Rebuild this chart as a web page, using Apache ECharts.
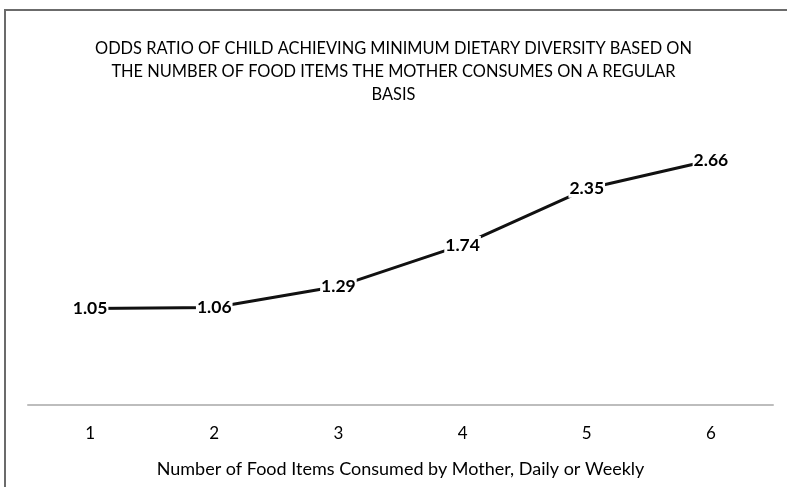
<!DOCTYPE html>
<html>
<head>
<meta charset="utf-8">
<script src="https://cdn.jsdelivr.net/npm/echarts@6/dist/echarts.min.js"></script>
<style>
    html, body { margin: 0; padding: 0; background: #fff; }
    #chart { width: 787px; height: 487px; }
</style>
</head>
<body>
<div id="chart"></div>
<script>
var categories = ['1', '2', '3', '4', '5', '6'];
var oddsRatio = [1.05, 1.06, 1.29, 1.74, 2.35, 2.66];
var titleText = 'ODDS RATIO OF CHILD ACHIEVING MINIMUM DIETARY DIVERSITY BASED ON\nTHE NUMBER OF FOOD ITEMS THE MOTHER CONSUMES ON A REGULAR\nBASIS';
var xName = 'Number of Food Items Consumed by Mother, Daily or Weekly';

var chart = echarts.init(document.getElementById('chart'));
var option = {
    animation: false,
    // outer frame, only top and left edges fall inside the picture
    graphic: [{
        type: 'rect',
        shape: { x: 5, y: 10, width: 800, height: 500 },
        style: { fill: 'none', stroke: '#6b6b6b', lineWidth: 2 }
    }],
    title: {
        text: titleText,
        left: 'center',
        top: 32,
        textStyle: {
            fontFamily: 'Lato',
            fontSize: 16.4,
            fontWeight: 'normal',
            color: '#000',
            lineHeight: 23
        }
    },
    grid: {
        left: 28,
        right: 14,
        top: 129,
        bottom: 82
    },
    xAxis: {
        type: 'category',
        data: categories,
        boundaryGap: true,
        name: xName,
        nameLocation: 'middle',
        nameGap: 55,
        nameTextStyle: { fontFamily: 'Lato', fontSize: 18, color: '#000' },
        axisLine: { lineStyle: { color: '#bdbdbd', width: 2 } },
        axisTick: { show: false },
        axisLabel: { margin: 20, fontFamily: 'Lato', fontSize: 17, color: '#000' }
    },
    yAxis: {
        type: 'value',
        min: 0,
        max: 3,
        show: false
    },
    series: [{
        type: 'line',
        data: oddsRatio,
        symbol: 'circle',
        symbolSize: 1,
        itemStyle: { color: '#111' },
        lineStyle: { color: '#111', width: 3 },
        label: {
            show: true,
            position: 'inside',
            formatter: function (p) { return p.value.toFixed(2); },
            fontFamily: 'Lato',
            fontWeight: 'bold',
            fontSize: 17.5,
            color: '#000',
            backgroundColor: '#fff',
            padding: [0, 1]
        }
    }]
};
chart.setOption(option);
</script>
</body>
</html>
